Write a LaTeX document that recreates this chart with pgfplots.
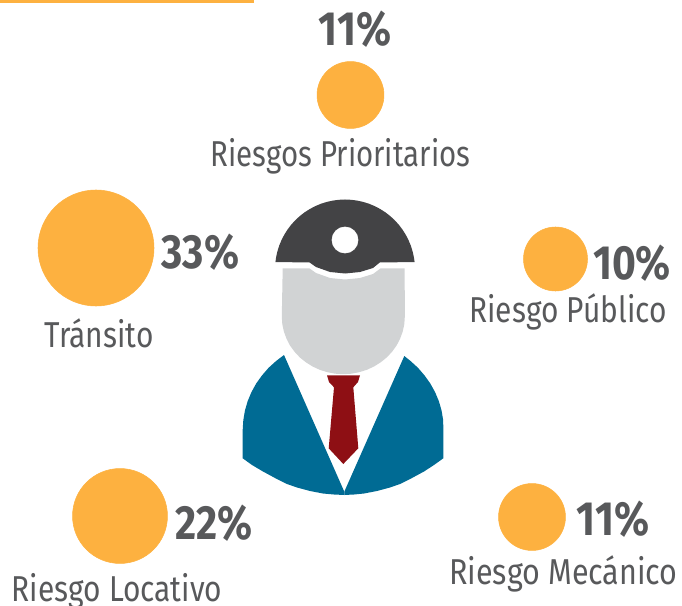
\documentclass[border=0pt]{standalone}
\usepackage{fontspec}
\setmainfont[FakeStretch=0.83,BoldFeatures={FakeStretch=0.85}]{Fira Sans}
\usepackage{pgfplots}
\pgfplotsset{compat=1.18}
\definecolor{naranja}{HTML}{FDB140}
\definecolor{texto}{HTML}{58595B}
\definecolor{casco}{HTML}{434345}
\definecolor{cara}{HTML}{D1D3D4}
\definecolor{saco}{HTML}{006B94}
\definecolor{corbata}{HTML}{8E0F14}
\tikzset{
  lab/.style={font=\fontsize{27}{27}\selectfont, text=texto, anchor=base, inner sep=0pt},
  pct/.style={font=\fontsize{36}{36}\selectfont\bfseries, text=texto, anchor=base, inner sep=0pt},
}

\begin{document}
\begin{tikzpicture}
  \path[use as bounding box] (0,0) rectangle (511.5pt,454.5pt);
  \clip (0,0) rectangle (511.5pt,454.5pt);
  \begin{axis}[
    at={(0,0)}, anchor=south west,
    scale only axis, width=511.5pt, height=454.5pt,
    xmin=0, xmax=682, ymin=0, ymax=606,
    y dir=reverse,
    axis lines=none,
    clip=false,
  ]
  % top rule
  \addplot[fill=naranja, draw=none] coordinates {(0,0) (254,0) (254,3) (0,3)} -- cycle;

  % bubbles: radius is in pt (px * 0.75)
  \addplot[only marks, mark=*, mark size=25.1pt, color=naranja] coordinates {(350.5,95)};
  \addplot[only marks, mark=*, mark size=43.5pt, color=naranja] coordinates {(96,248)};
  \addplot[only marks, mark=*, mark size=24pt, color=naranja] coordinates {(555.5,259)};
  \addplot[only marks, mark=*, mark size=35.6pt, color=naranja] coordinates {(120,516)};
  \addplot[only marks, mark=*, mark size=25.1pt, color=naranja] coordinates {(532,517)};

  % figure: suit
  \addplot[fill=saco, draw=none] coordinates {
    (284,355) (276.1,361) (268.6,367.8) (262,375.4) (256.2,383.5) (251.4,392.2) (247.6,401.3)
    (244.9,410.7) (243.3,420.3) (242.7,430) (242.7,458.3)
    (252,465) (263,471.5) (275,478) (287,484) (297,487.5) (310,491) (323,493.5) (334,494.5)
    (344.3,495) (344.3,491.7)} -- cycle;
  \addplot[fill=saco, draw=none] coordinates {
    (404.3,356) (410.5,361) (418,367.8) (424.5,375.4) (430.3,383.5) (435.1,392.2) (438.9,401.3)
    (441.6,410.7) (443.2,420.3) (443.3,430) (443.3,458.3)
    (434,465) (424,471.5) (412,478) (400,484) (390,487.5) (377,491) (364,493.5) (354,494.5)
    (344.3,495) (344.3,491.7)} -- cycle;
  % face
  \addplot[fill=cara, draw=none] coordinates {
    (282.7,268.3) (309.3,268.3) (316,273) (330,278) (345,279.5) (360,278) (373,274) (380.7,268.3)
    (404.7,268.3) (404.8,316.7)
    (404.3,324.2) (402.7,331.6) (400.1,338.7) (396.6,345.5) (392.1,351.7) (386.8,357.4)
    (380.7,362.3) (374,366.5) (366.9,369.8) (359.2,372.2) (351.3,373.7) (343.3,374.2)
    (335.3,373.7) (327.4,372.2) (319.7,369.8) (312.6,366.5) (305.9,362.3) (299.8,357.4)
    (294.5,351.7) (290,345.5) (286.5,338.7) (283.9,331.6) (282.3,324.2) (281.8,316.7)} -- cycle;
  % tie
  \addplot[fill=corbata, draw=none] coordinates {
    (327,375.3) (360,375.3) (358,382) (353.3,387.3) (358.3,448.3) (343.3,464)
    (328.7,448.3) (334,387.3) (329,382)} -- cycle;
  % helmet
  \addplot[fill=casco, draw=none] coordinates {
    (275.4,262.2) (276.1,257.3) (277.4,251.4) (279.2,245.6) (281.6,239.9) (284.4,234.5)
    (287.7,229.3) (291.4,224.5) (295.5,220) (300,215.9) (304.8,212.2) (310,208.9)
    (315.4,206.1) (321.1,203.7) (326.9,201.9) (332.8,200.6) (338.9,199.8) (345,199.5)
    (351.1,199.8) (357.2,200.6) (363.1,201.9) (368.9,203.7) (374.6,206.1) (380,208.9)
    (385.2,212.2) (390,215.9) (394.5,220) (398.6,224.5) (402.3,229.3) (405.6,234.5)
    (408.4,239.9) (410.8,245.6) (412.6,251.4) (413.9,257.3) (414.6,262.2)
    (380,262.3) (373,268) (360,272) (345,273.5) (330,272) (316,267) (309.3,262.3)} -- cycle;
  \addplot[only marks, mark=*, mark size=9.8pt, color=white] coordinates {(345,240)};

  % labels
  \node[pct] at (axis cs:355,46) {11\%};
  \node[lab, xscale=0.985] at (axis cs:340.5,166.5) {Riesgos Prioritarios};
  \node[pct] at (axis cs:200.5,268) {33\%};
  \node[lab] at (axis cs:99,347.5) {Tránsito};
  \node[pct] at (axis cs:632,279) {10\%};
  \node[lab] at (axis cs:568,322) {Riesgo Público};
  \node[pct] at (axis cs:214,539) {22\%};
  \node[lab] at (axis cs:117,601) {Riesgo Locativo};
  \node[pct] at (axis cs:613,535) {11\%};
  \node[lab, xscale=1.02] at (axis cs:563.5,584) {Riesgo Mecánico};
  \end{axis}
\end{tikzpicture}
\end{document}
